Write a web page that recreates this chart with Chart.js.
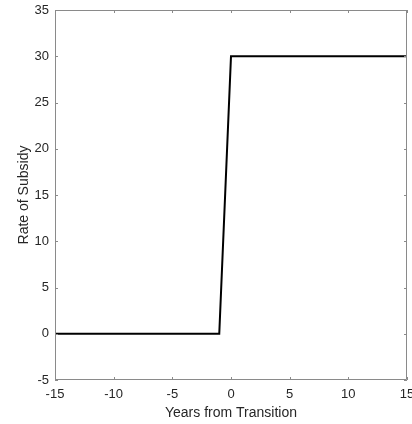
<!DOCTYPE html>
<html>
<head>
<meta charset="utf-8">
<script src="https://cdn.jsdelivr.net/npm/chart.js@4/dist/chart.umd.min.js"></script>
<style>
  html, body { margin: 0; padding: 0; background: #fff; }
  #wrap { width: 412px; height: 424px; }
</style>
</head>
<body>
<div id="wrap"><canvas id="myChart" width="412" height="424"></canvas></div>
<script>
// data
const years = [-15, -1, 0, 15];
const subsidy = [0, 0, 30, 30];
const xRange = [-15, 15];
const yRange = [-5, 35];
const tickStep = 5;

const axisColor = '#8a8a8a';
const textColor = '#262626';

// MATLAB-style box with inward ticks
const boxPlugin = {
  id: 'box',
  afterDatasetsDraw(chart) {
    const { ctx, chartArea: a, scales } = chart;
    ctx.save();
    ctx.strokeStyle = axisColor;
    ctx.lineWidth = 1;
    ctx.beginPath();
    ctx.rect(a.left + 0.5, a.top + 0.5, a.right - a.left - 1, a.bottom - a.top - 1);
    ctx.stroke();
    const len = 3;
    ctx.beginPath();
    scales.x.ticks.forEach(t => {
      const px = Math.round(scales.x.getPixelForValue(t.value)) + 0.5;
      ctx.moveTo(px, a.bottom); ctx.lineTo(px, a.bottom - len);
      ctx.moveTo(px, a.top); ctx.lineTo(px, a.top + len);
    });
    scales.y.ticks.forEach(t => {
      const py = Math.round(scales.y.getPixelForValue(t.value)) + 0.5;
      ctx.moveTo(a.left, py); ctx.lineTo(a.left + len, py);
      ctx.moveTo(a.right, py); ctx.lineTo(a.right - len, py);
    });
    ctx.stroke();
    ctx.restore();
  }
};

const ctx = document.getElementById('myChart').getContext('2d');
new Chart(ctx, {
  type: 'line',
  data: {
    datasets: [{
      data: years.map((x, i) => ({ x: x, y: subsidy[i] })),
      borderColor: '#000',
      borderWidth: 2,
      pointRadius: 0,
      tension: 0,
      fill: false
    }]
  },
  options: {
    responsive: false,
    animation: false,
    layout: { padding: { top: 10, right: 5, left: 0, bottom: 0 } },
    plugins: { legend: { display: false }, tooltip: { enabled: false } },
    scales: {
      x: {
        type: 'linear',
        min: xRange[0],
        max: xRange[1],
        grid: { display: false, drawTicks: false },
        border: { display: false },
        ticks: {
          stepSize: tickStep,
          padding: 7,
          maxRotation: 0,
          color: textColor,
          font: { family: 'Liberation Sans, Arial', size: 13 }
        },
        title: {
          display: true,
          text: 'Years from Transition',
          color: textColor,
          padding: { top: 2, bottom: 2 },
          font: { family: 'Liberation Sans, Arial', size: 14 }
        },
        afterFit(scale) {
          scale.height = 44;
          scale.paddingLeft = 0;
          scale.paddingRight = 0;
        }
      },
      y: {
        min: yRange[0],
        max: yRange[1],
        grid: { display: false, drawTicks: false },
        border: { display: false },
        ticks: {
          stepSize: tickStep,
          padding: 6,
          color: textColor,
          font: { family: 'Liberation Sans, Arial', size: 13 }
        },
        title: {
          display: true,
          text: 'Rate of Subsidy',
          color: textColor,
          padding: { top: 16, bottom: 4 },
          font: { family: 'Liberation Sans, Arial', size: 14 }
        },
        afterFit(scale) {
          scale.width = 55;
          scale.paddingTop = 0;
          scale.paddingBottom = 0;
        }
      }
    }
  },
  plugins: [boxPlugin]
});
</script>
</body>
</html>
